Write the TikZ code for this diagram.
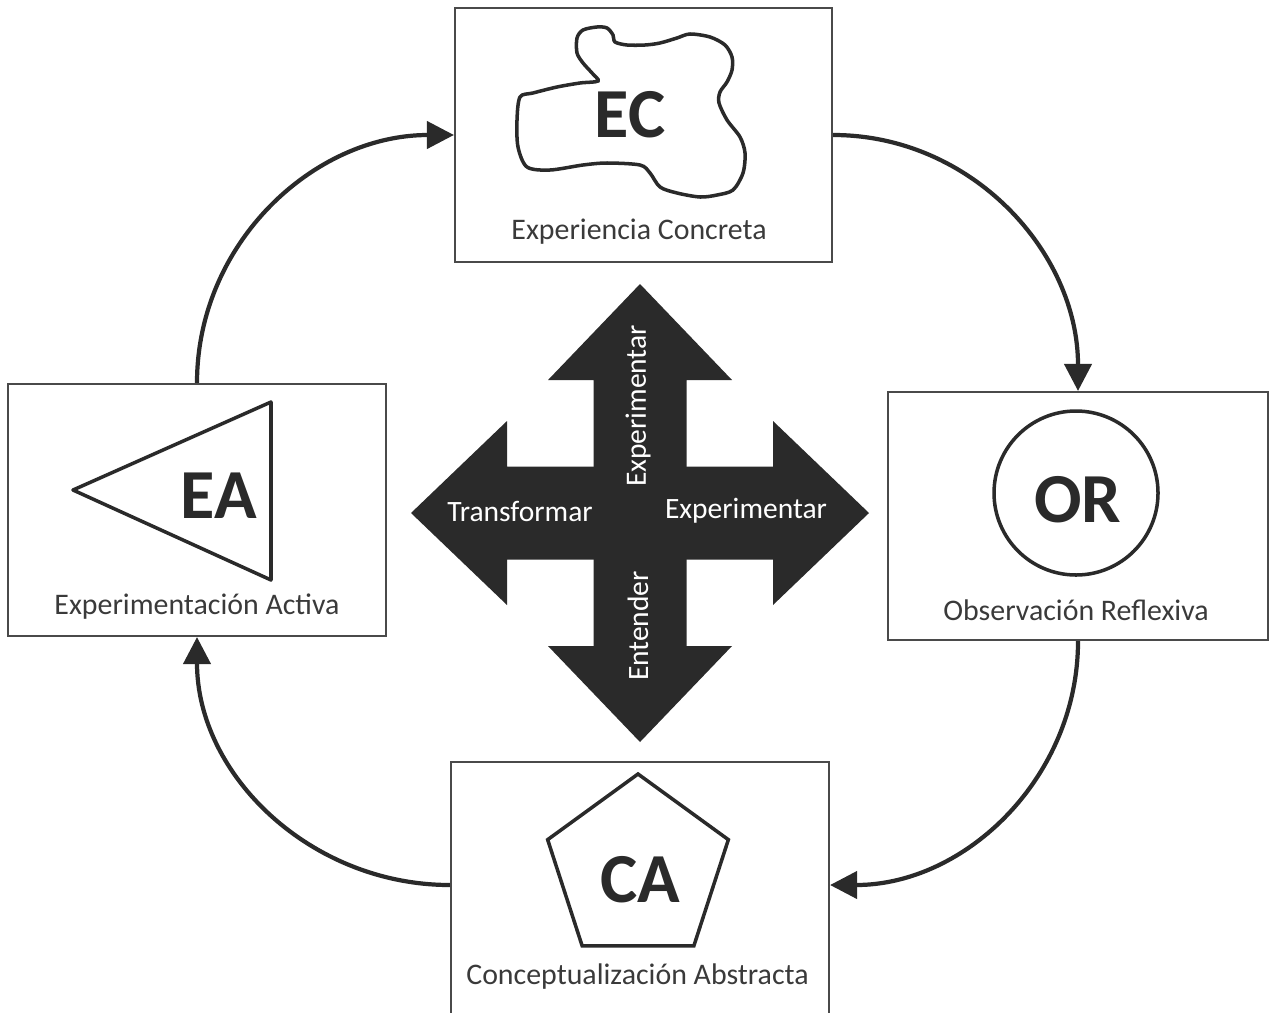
\documentclass[tikz,border=0pt]{standalone}
\usepackage{fontspec}
\setmainfont{Carlito}
\usetikzlibrary{arrows.meta}

\definecolor{inkgray}{HTML}{2A2A2A}
\definecolor{framegray}{HTML}{4A4A4A}
\definecolor{textgray}{HTML}{3A3A3A}

\begin{document}
\begin{tikzpicture}[
    box/.style={draw=framegray, line width=0.6pt, inner sep=0pt},
    cycle arrow/.style={draw=inkgray, line width=1.2pt, -{Triangle[length=0.27cm, width=0.27cm]}},
    shape line/.style={draw=inkgray, line width=1pt},
    tag/.style={font=\fontsize{20}{22}\selectfont\bfseries, text=inkgray, inner sep=0pt},
    caption/.style={font=\fontsize{8.5}{10}\selectfont, text=textgray, inner sep=0pt},
    cross text/.style={font=\fontsize{8.4}{10}\selectfont, text=white, inner sep=0pt}
]
    \clip (0,0) rectangle (12.74,10.12);

    % Stage boxes
    \node[box, minimum width=3.77cm, minimum height=2.54cm] (ec) at (6.435,8.77) {};
    \node[box, minimum width=3.80cm, minimum height=2.48cm] (or) at (10.78,4.96) {};
    \node[box, minimum width=3.78cm, minimum height=2.52cm] (ea) at (1.97,5.02) {};
    \node[box, minimum width=3.78cm, minimum height=2.60cm] (ca) at (6.40,1.20) {};

    % Cycle arrows
    \draw[cycle arrow] (ea.north) to[out=90, in=180] (ec.west);
    \draw[cycle arrow] (ec.east) to[out=0, in=90] (or.north);
    \draw[cycle arrow] (or.south) to[out=-90, in=0] ([yshift=0.7mm]ca.east);
    \draw[cycle arrow] ([yshift=0.7mm]ca.west) to[out=180, in=-90] (ea.south);

    % EC: blob
    \draw[shape line] plot[smooth cycle, tension=0.5] coordinates {
        (5.77,9.74) (5.83,9.82) (5.97,9.85) (6.07,9.84) (6.13,9.77) (6.15,9.70)
        (6.27,9.67) (6.45,9.67) (6.60,9.69) (6.77,9.74) (6.90,9.78) (7.10,9.75)
        (7.25,9.67) (7.32,9.55) (7.32,9.42) (7.27,9.30) (7.20,9.20) (7.19,9.09)
        (7.27,8.92) (7.40,8.75) (7.45,8.59) (7.43,8.39) (7.33,8.22) (7.17,8.17)
        (7.00,8.15) (6.77,8.19) (6.60,8.25) (6.50,8.39) (6.40,8.47) (6.07,8.49)
        (5.83,8.47) (5.50,8.42) (5.27,8.45) (5.18,8.65) (5.17,8.92) (5.20,9.15)
        (5.33,9.19) (5.57,9.25) (5.80,9.29) (5.98,9.31) (5.92,9.39) (5.83,9.49)
        (5.77,9.59)};
    \node[tag] (ec-tag) at (6.30,8.97) {EC};
    \node[caption] (ec-name) at (6.39,7.80) {Experiencia Concreta};

    % OR: circle
    \draw[shape line] (10.76,5.19) circle (0.82);
    \node[tag] (or-tag) at (10.78,5.12) {OR};
    \node[caption] (or-name) at (10.76,4.02) {Observación Reflexiva};

    % EA: triangle
    \draw[shape line, line join=round] (0.73,5.22) -- (2.71,6.10) -- (2.71,4.32) -- cycle;
    \node[tag] (ea-tag) at (2.19,5.16) {EA};
    \node[caption] (ea-name) at (1.97,4.05) {Experimentación Activa};

    % CA: pentagon
    \draw[shape line] (6.38,1.43) +(90:0.95) -- +(162:0.95) -- +(234:0.95)
        -- +(306:0.95) -- +(18:0.95) -- cycle;
    \node[tag] (ca-tag) at (6.40,1.32) {CA};
    \node[caption] (ca-name) at (6.375,0.35) {Conceptualización Abstracta};

    % Four-way arrow in the middle
    \foreach \a in {0,90,180,270}
        \fill[inkgray, shift={(6.40,4.99)}, rotate=\a]
            (0,-0.465) -- (1.33,-0.465) -- (1.33,-0.92) -- (2.29,0)
            -- (1.33,0.92) -- (1.33,0.465) -- (0,0.465) -- cycle;
    \node[cross text] (left-word) at (5.20,5.01) {Transformar};
    \node[cross text] (right-word) at (7.46,5.01) {Experimentar};
    \node[cross text, rotate=90] (up-word) at (6.38,6.06) {Experimentar};
    \node[cross text, rotate=90] (down-word) at (6.38,3.86) {Entender};
\end{tikzpicture}
\end{document}
